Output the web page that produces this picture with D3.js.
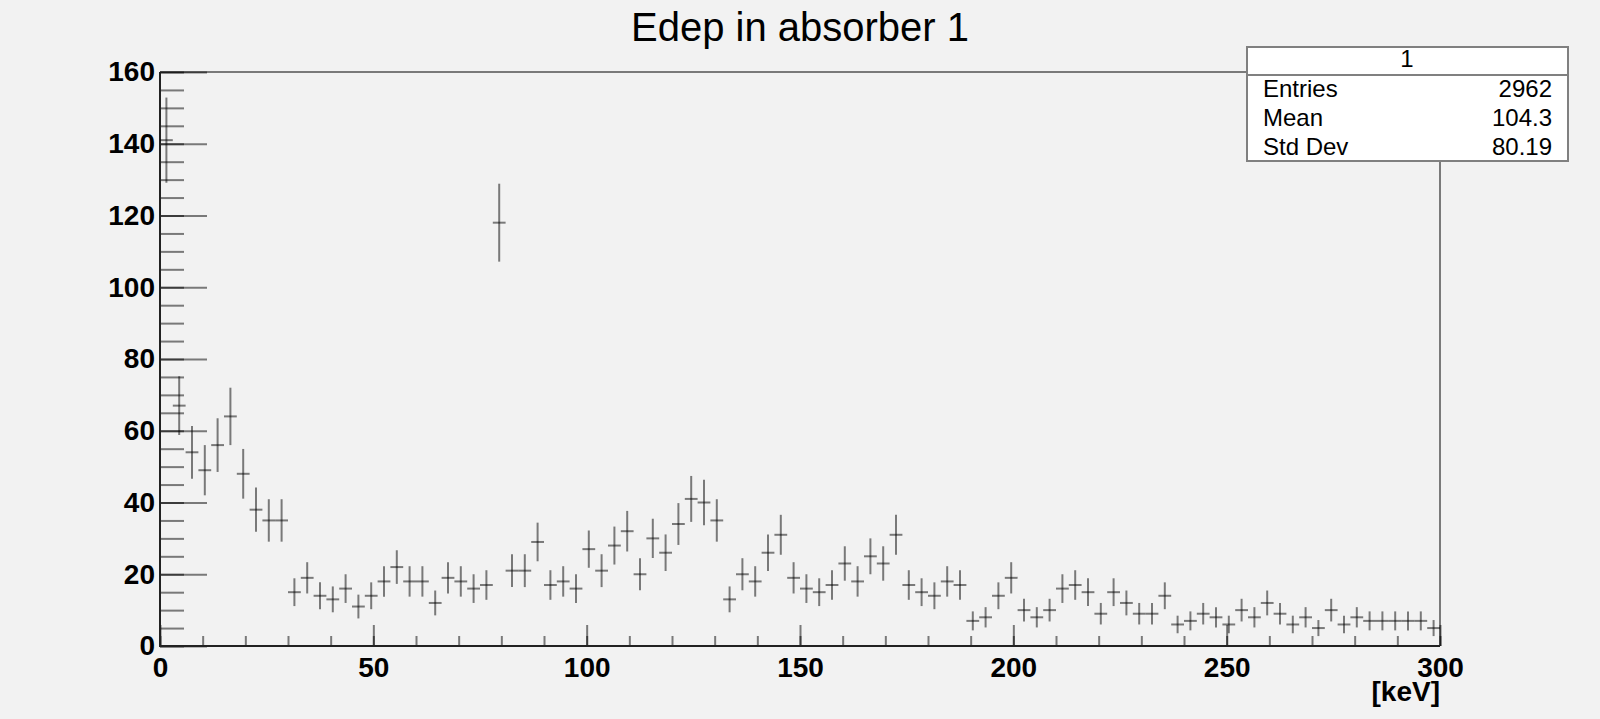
<!DOCTYPE html>
<html>
<head>
<meta charset="utf-8">
<script src="https://cdn.jsdelivr.net/npm/d3@7"></script>
<style>
  html, body { margin: 0; padding: 0; background: #f2f2f2; }
  svg { display: block; }
</style>
</head>
<body>
<div id="container"></div>
<script>
// histogram "1": 100 bins from 0 to 300 keV
let xMin = 0;
let xMax = 300;
let counts = [
  141, 67, 54, 49, 56, 64, 48, 38, 35, 35,
  15, 19, 14, 13, 16, 11, 14, 18, 22, 18,
  18, 12, 19, 18, 16, 17, 118, 21, 21, 29,
  17, 18, 16, 27, 21, 28, 32, 20, 30, 26,
  34, 41, 40, 35, 13, 20, 18, 26, 31, 19,
  16, 15, 17, 23, 18, 25, 23, 31, 17, 15,
  14, 18, 17, 7, 8, 14, 19, 10, 8, 10,
  16, 17, 15, 9, 15, 12, 9, 9, 14, 6,
  7, 9, 8, 6, 10, 8, 12, 9, 6, 8,
  5, 10, 6, 8, 7, 7, 7, 7, 7, 5
];
let yTicks = [0, 20, 40, 60, 80, 100, 120, 140, 160];
let xTicks = [0, 50, 100, 150, 200, 250, 300];
let statNames = ["Entries", "Mean", "Std Dev"];
let statValues = ["2962", "104.3", "80.19"];
let title = "Edep in absorber 1";
let histName = "1";
let xTitle = "[keV]";

let w = 1600;
let h = 719;
let font = "'Liberation Sans', Arial, Helvetica, sans-serif";

let viz = d3.select("#container")
  .append("svg")
    .attr("width", w)
    .attr("height", h)
    .style("background-color", "#f2f2f2")
;

let xScale = d3.scaleLinear().domain([xMin, xMax]).range([160, 1440]);
let yScale = d3.scaleLinear().domain([0, 160]).range([646, 72]);
let binW = (xMax - xMin) / counts.length;

// title
viz.append("text")
    .text(title)
    .attr("x", 800)
    .attr("y", 41)
    .attr("text-anchor", "middle")
    .style("font-family", font)
    .style("font-size", "40px")
    .attr("fill", "black")
;

// frame (top / right)
viz.append("path")
    .attr("d", "M160,72H1440V646")
    .attr("fill", "none")
    .attr("stroke", "#7a7a7a")
    .attr("stroke-width", 2)
;

// y axis ticks
let yMinor = viz.append("g")
    .attr("transform", "translate(160,0)")
    .call(d3.axisLeft(yScale).tickValues(d3.range(0, 161, 5)).tickSize(-24).tickFormat(""));
let yMajor = viz.append("g")
    .attr("transform", "translate(160,0)")
    .call(d3.axisLeft(yScale).tickValues(yTicks).tickSize(-47).tickPadding(5));

// x axis ticks
let xMinor = viz.append("g")
    .attr("transform", "translate(0,646)")
    .call(d3.axisBottom(xScale).tickValues(d3.range(0, 301, 10)).tickSize(-10).tickFormat(""));
let xMajor = viz.append("g")
    .attr("transform", "translate(0,646)")
    .call(d3.axisBottom(xScale).tickValues(xTicks).tickSize(-21).tickPadding(11));

[yMinor, yMajor, xMinor, xMajor].forEach(function(a){
  a.select(".domain").remove();
  a.selectAll("line").attr("stroke", "black").attr("stroke-opacity", 0.5).attr("stroke-width", 2);
  a.selectAll("text")
    .attr("fill", "black")
    .style("font-family", font)
    .style("font-size", "28px")
    .style("font-weight", "bold");
});

// axis lines
viz.append("path")
    .attr("d", "M160,72V646H1440")
    .attr("fill", "none")
    .attr("stroke", "#222")
    .attr("stroke-width", 2)
;

viz.append("text")
    .text(xTitle)
    .attr("x", 1440)
    .attr("y", 701)
    .attr("text-anchor", "end")
    .style("font-family", font)
    .style("font-size", "28px")
    .style("font-weight", "bold")
    .attr("fill", "black")
;

// data points with error bars
let bins = viz.append("g").selectAll(".bin").data(counts).enter()
  .append("g")
    .classed("bin", true)
;

function lo(d, i){ return xMin + i * binW; }

bins.append("line")
    .attr("x1", function(d, i){ return xScale(lo(d, i)); })
    .attr("x2", function(d, i){ return xScale(lo(d, i) + binW); })
    .attr("y1", function(d){ return yScale(d); })
    .attr("y2", function(d){ return yScale(d); })
;
bins.append("line")
    .attr("x1", function(d, i){ return xScale(lo(d, i) + binW / 2); })
    .attr("x2", function(d, i){ return xScale(lo(d, i) + binW / 2); })
    .attr("y1", function(d){ return yScale(d + Math.sqrt(d)); })
    .attr("y2", function(d){ return yScale(d - Math.sqrt(d)); })
;
bins.selectAll("line")
    .attr("stroke", "black")
    .attr("stroke-opacity", 0.5)
    .attr("stroke-width", 2)
;

// stats box
let stats = viz.append("g");
stats.append("rect")
    .attr("x", 1247)
    .attr("y", 47)
    .attr("width", 321)
    .attr("height", 114)
    .attr("fill", "white")
    .attr("stroke", "#808080")
    .attr("stroke-width", 2)
;
stats.append("line")
    .attr("x1", 1247).attr("x2", 1568)
    .attr("y1", 75).attr("y2", 75)
    .attr("stroke", "#808080")
    .attr("stroke-width", 2)
;
stats.append("text")
    .text(histName)
    .attr("x", 1407)
    .attr("y", 67)
    .attr("text-anchor", "middle")
    .style("font-family", font)
    .style("font-size", "24px")
;
statNames.forEach(function(n, i){
  stats.append("text")
      .text(n)
      .attr("x", 1263)
      .attr("y", 97 + i * 29)
      .style("font-family", font)
      .style("font-size", "24px");
  stats.append("text")
      .text(statValues[i])
      .attr("x", 1552)
      .attr("y", 97 + i * 29)
      .attr("text-anchor", "end")
      .style("font-family", font)
      .style("font-size", "24px");
});
</script>
</body>
</html>
